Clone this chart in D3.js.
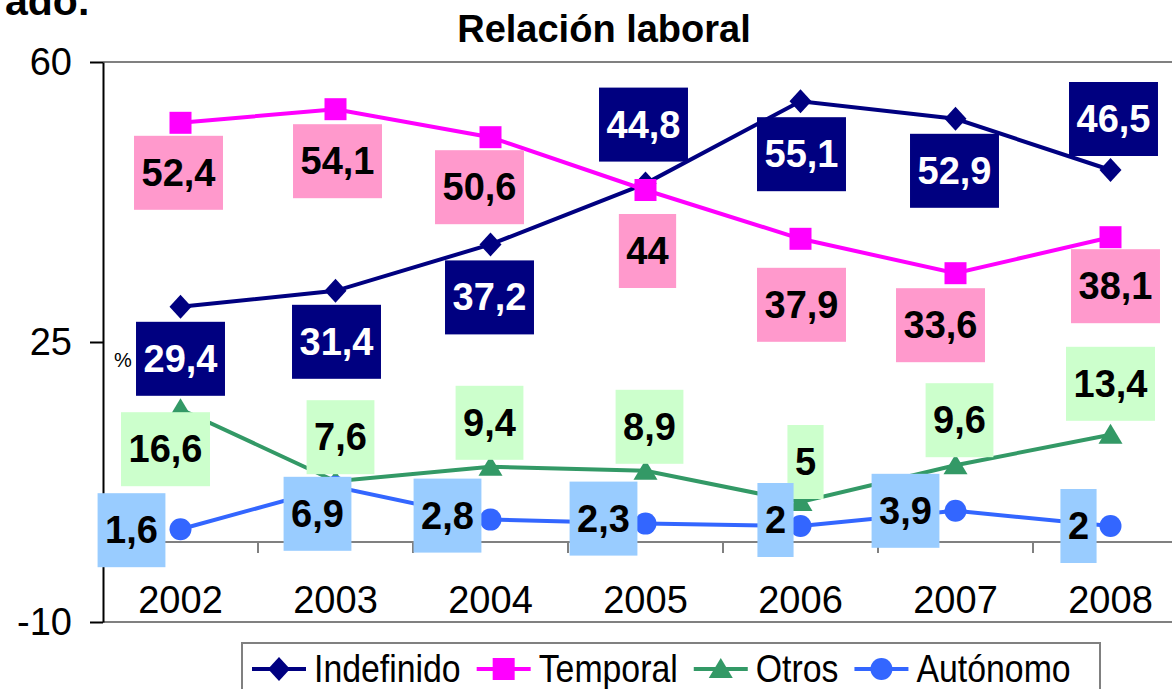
<!DOCTYPE html>
<html>
<head>
<meta charset="utf-8">
<script src="https://cdn.jsdelivr.net/npm/d3@7"></script>
<style>
	body { margin: 0; background: #fff; }
	svg { display: block; font-family: "Liberation Sans", Arial, sans-serif; }
</style>
</head>
<body>
<svg class="chart"></svg>
<script>
// chart values
var years = ["2002", "2003", "2004", "2005", "2006", "2007", "2008"];
var indefinido = [29.4, 31.4, 37.2, 44.8, 55.1, 52.9, 46.5];
var temporal = [52.4, 54.1, 50.6, 44, 37.9, 33.6, 38.1];
var otros = [16.6, 7.6, 9.4, 8.9, 5, 9.6, 13.4];
var autonomo = [1.6, 6.9, 2.8, 2.3, 2, 3.9, 2];
var yTicks = [-10, 25, 60];
var seriesNames = ["Indefinido", "Temporal", "Otros", "Autónomo"];

// where each data label box sits relative to its point (dx, dy)
var offIndefinido = [[0, 52], [1, 51], [-1, 53], [-2, -59], [1, 53], [-1, 52], [3, -51]];
var offTemporal = [[-2, 50], [2, 52], [-11, 50], [2, 61], [1, 66], [-15, 52], [5, 49]];
var offOtros = [[-15, 40], [5, -44], [-1, -44], [4, -44], [5, -40], [4, -45], [0, -51]];
var offAutonomo = [[-49, 1], [-18, 27], [-43, -4], [-42, -5], [-25, -6], [-50, 0], [-32, 0]];

function makeChart() {

	var width = 1172, height = 689;
	var plot = {left: 103, right: 1188, top: 62, bottom: 622};

	var svg = d3.select(".chart")
		.attr("width", width)
		.attr("height", height);

	var x = d3.scaleBand()
		.domain(years)
		.range([plot.left, plot.right])
		.padding(0);

	var y = d3.scaleLinear()
		.domain([-10, 60])
		.range([plot.bottom, plot.top]);

	var series = [
		{name: seriesNames[0], values: indefinido, offs: offIndefinido, color: "#000080", box: "#000080", text: "#fff", shape: "diamond"},
		{name: seriesNames[1], values: temporal, offs: offTemporal, color: "#ff00ff", box: "#ff99cc", text: "#000", shape: "square"},
		{name: seriesNames[2], values: otros, offs: offOtros, color: "#339966", box: "#ccffcc", text: "#000", shape: "triangle"},
		{name: seriesNames[3], values: autonomo, offs: offAutonomo, color: "#3366ff", box: "#99ccff", text: "#000", shape: "circle"}
	];

	function cx(i) { return x(years[i]) + x.bandwidth() / 2; }

	function markerPath(shape) {
		if (shape == "diamond") return "M0,-12L11,0L0,12L-11,0Z";
		if (shape == "square") return "M-11,-11H11V11H-11Z";
		if (shape == "triangle") return "M0,-11L12,9L-12,9Z";
		return d3.symbol().type(d3.symbolCircle).size(Math.PI * 11 * 11)();
	}

	// plot area border (top and bottom)
	svg.append("line")
		.attr("x1", plot.left).attr("x2", plot.right)
		.attr("y1", plot.top).attr("y2", plot.top)
		.attr("stroke", "#808080").attr("stroke-width", 2);
	svg.append("line")
		.attr("x1", plot.left).attr("x2", plot.right)
		.attr("y1", plot.bottom).attr("y2", plot.bottom)
		.attr("stroke", "#808080").attr("stroke-width", 2);

	// y axis
	var yAxis = d3.axisLeft(y)
		.tickValues(yTicks)
		.tickSize(13)
		.tickSizeOuter(0)
		.tickPadding(18)
		.tickFormat(function(d) { return d; });

	var yg = svg.append("g")
		.attr("transform", "translate(" + plot.left + ",0)")
		.call(yAxis);
	yg.select(".domain").attr("stroke", "#000").attr("stroke-width", 2);
	yg.selectAll(".tick line").attr("stroke", "#000").attr("stroke-width", 2);
	yg.selectAll("text")
		.attr("font-size", 38)
		.attr("font-family", "Liberation Sans, Arial, sans-serif")
		.attr("fill", "#000");

	// category axis on the zero line
	svg.append("line")
		.attr("x1", plot.left).attr("x2", plot.right)
		.attr("y1", y(0)).attr("y2", y(0))
		.attr("stroke", "#808080").attr("stroke-width", 2);

	svg.selectAll(".cattick")
		.data(years.slice(1).concat(["end"]))
	  .enter().append("line")
		.attr("class", "cattick")
		.attr("x1", function(d, i) { return x(years[0]) + x.bandwidth() * (i + 1); })
		.attr("x2", function(d, i) { return x(years[0]) + x.bandwidth() * (i + 1); })
		.attr("y1", y(0))
		.attr("y2", y(0) + 11)
		.attr("stroke", "#808080").attr("stroke-width", 2);

	var xAxis = d3.axisBottom(x)
		.tickSize(0)
		.tickPadding(44);

	var xg = svg.append("g")
		.attr("transform", "translate(0," + y(0) + ")")
		.call(xAxis);
	xg.select(".domain").remove();
	xg.selectAll("text")
		.attr("font-size", 38)
		.attr("font-family", "Liberation Sans, Arial, sans-serif")
		.attr("fill", "#000");

	// lines and markers
	var line = d3.line()
		.x(function(d, i) { return cx(i); })
		.y(function(d) { return y(d); });

	series.forEach(function(s) {
		svg.append("path")
			.datum(s.values)
			.attr("fill", "none")
			.attr("stroke", s.color)
			.attr("stroke-width", 4)
			.attr("d", line);

		svg.selectAll(".m-" + s.shape)
			.data(s.values)
		  .enter().append("path")
			.attr("class", "m-" + s.shape)
			.attr("transform", function(d, i) { return "translate(" + cx(i) + "," + y(d) + ")"; })
			.attr("d", markerPath(s.shape))
			.attr("fill", s.color);
	});

	// data labels
	series.forEach(function(s) {
		s.values.forEach(function(v, i) {
			var lx = cx(i) + s.offs[i][0];
			var ly = y(v) + s.offs[i][1];
			var g = svg.append("g");
			var rect = g.append("rect").attr("fill", s.box);
			var t = g.append("text")
				.attr("x", lx)
				.attr("y", ly + 13)
				.attr("text-anchor", "middle")
				.attr("font-size", 38)
				.attr("font-weight", "bold")
				.attr("fill", s.text)
				.text(String(v).replace(".", ","));
			var w = t.node().getComputedTextLength() + 15;
			rect.attr("x", lx - w / 2)
				.attr("y", ly - 37)
				.attr("width", w)
				.attr("height", 74);
		});
	});

	// title and extra texts
	svg.append("text")
		.attr("x", 604)
		.attr("y", 42)
		.attr("text-anchor", "middle")
		.attr("font-size", 38)
		.attr("font-weight", "bold")
		.text("Relación laboral");

	svg.append("text")
		.attr("x", 5)
		.attr("y", 15)
		.attr("font-size", 41)
		.attr("font-weight", "bold")
		.text("ado.");

	svg.append("text")
		.attr("x", 114)
		.attr("y", 367)
		.attr("font-size", 20)
		.text("%");

	// legend
	var legend = svg.append("g");
	legend.append("rect")
		.attr("x", 242)
		.attr("y", 643)
		.attr("width", 858)
		.attr("height", 80)
		.attr("fill", "#fff")
		.attr("stroke", "#808080")
		.attr("stroke-width", 2);

	var lx = 252, ly = 669, squeeze = 0.89;
	series.forEach(function(s) {
		legend.append("line")
			.attr("x1", lx).attr("x2", lx + 54)
			.attr("y1", ly).attr("y2", ly)
			.attr("stroke", s.color)
			.attr("stroke-width", 4);
		legend.append("path")
			.attr("transform", "translate(" + (lx + 27) + "," + ly + ")")
			.attr("d", markerPath(s.shape))
			.attr("fill", s.color);
		var t = legend.append("text")
			.attr("transform", "translate(" + (lx + 62) + "," + (ly + 13) + ") scale(" + squeeze + ",1)")
			.attr("font-size", 38)
			.text(s.name);
		lx = lx + 62 + t.node().getComputedTextLength() * squeeze + 16;
	});
}

makeChart();
</script>
</body>
</html>
